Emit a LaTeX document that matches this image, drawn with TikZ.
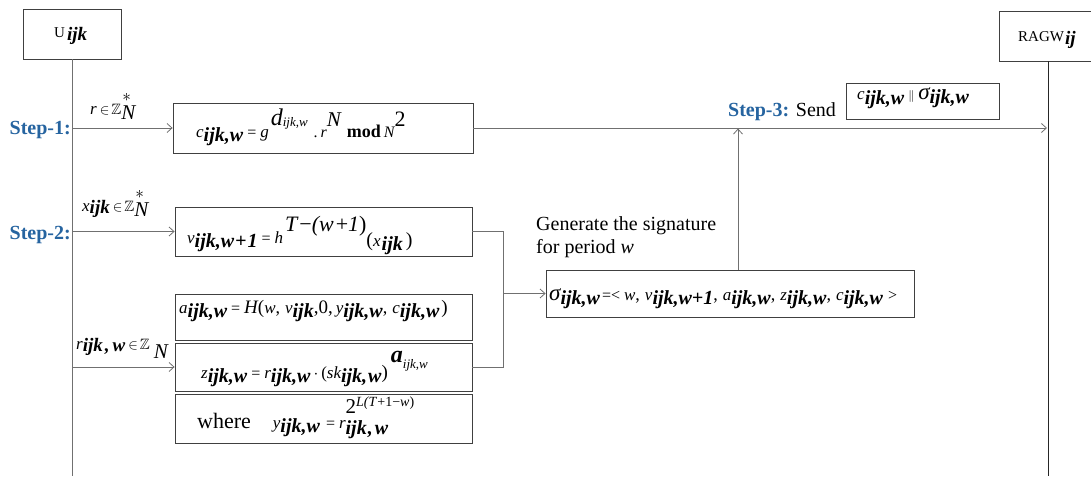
\documentclass[tikz,border=0pt]{standalone}
\usepackage{amsmath,amssymb}
\usepackage{fontspec}
\setmainfont{Liberation Serif}
\usetikzlibrary{arrows.meta}
\definecolor{linec}{RGB}{112,112,112}
\definecolor{boxc}{RGB}{64,64,64}
\definecolor{stepc}{RGB}{38,100,160}
\newcommand{\fs}[1]{\fontsize{#1}{#1}\selectfont}
\newcommand{\bi}[1]{\textbf{\textit{#1}}}
\newcommand{\Sub}[1]{\raisebox{-4pt}{\fs{20}\bi{#1}}}
\newcommand{\mv}[1]{{\fs{17}\itshape #1}}
\newcommand{\eq}{{\fs{16}\kern4pt=\kern4pt}}
\newcommand{\cm}{{\fs{18},}\kern5pt}
\begin{document}
\begin{tikzpicture}[x=1pt,y=-1pt,
  box/.style={draw=boxc, line width=0.8pt, inner sep=0pt},
  conn/.style={draw=linec, line width=0.8pt},
  arr/.style={conn, -{Straight Barb[length=5pt,width=9pt,line width=0.8pt]}},
  life/.style={line width=0.9pt},
  txt/.style={inner sep=0pt, anchor=base west},
  steplbl/.style={inner sep=0pt, anchor=base east, text=stepc, font=\fs{20}\bfseries}
]
\useasboundingbox (0,0) rectangle (1091,476);
\clip (0,0) rectangle (1091,476);

% participants
\node[box, minimum width=98, minimum height=50] (U) at (72,34) {};
\node[txt] (Ut) at (54,38) {{\fs{15}U}\kern2pt\raisebox{-3pt}{\fs{19}\bi{ijk}}};
\node[box, minimum width=101, minimum height=50] (R) at (1049.5,36) {};
\node[txt] (Rt) at (1018,42) {{\fs{15}RAGW}\kern1pt\raisebox{-3pt}{\fs{19}\bi{ij}}};
\coordinate (Uend) at (72,476);
\coordinate (Rend) at (1048,476);
\draw[conn, life] (U.south) -- (Uend);
\draw[life, draw=black!85] (R.south -| Rend) -- (Rend);

% step labels
\node[steplbl] (S1) at (71,135) {Step-1:};
\node[steplbl] (S2) at (71,239) {Step-2:};

% boxes
\node[box, minimum width=300, minimum height=50] (C) at (323,128) {};
\node[box, minimum width=297, minimum height=49] (V) at (323.5,231.5) {};
\node[box, minimum width=297, minimum height=46] (A) at (323.5,317) {};
\node[box, minimum width=297, minimum height=48] (Z) at (323.5,367) {};
\node[box, minimum width=297, minimum height=49] (W) at (323.5,418.5) {};
\node[box, minimum width=368, minimum height=47] (S) at (730,293.5) {};
\node[box, minimum width=153, minimum height=36] (K) at (922.5,101) {};

% formulas
\node[txt] (Cf) at (196,137) {\mv{c}\Sub{ijk,w}\eq\mv{g}\kern2pt\raisebox{12pt}{\fs{24}\itshape d\raisebox{-2pt}{\fs{13}\itshape ijk,w}}\kern6pt{\fs{16}.\kern3pt\itshape r}\raisebox{11pt}{\fs{21}\itshape N}\kern6pt{\fs{18}\bfseries mod}\kern3pt{\fs{16}\itshape N}\raisebox{11pt}{\fs{22}2}};
\node[txt] (Vf) at (187,243) {\mv{v}\Sub{ijk,w\kern1pt+\kern1pt1}\eq\mv{h}\kern2pt\raisebox{12pt}{\fs{22}\itshape T\kern2pt{\upshape −}(w\kern2pt{\upshape +}1{\upshape )}}\raisebox{-3pt}{{\fs{20}(}\mv{x}\kern1pt\Sub{ijk}\kern3pt{\fs{20})}}};
\node[txt] (Af) at (179,313) {\mv{a}\Sub{ijk,w}\eq{\fs{19}\itshape H}{\fs{19}(}\mv{w}\cm\mv{v}\Sub{ijk}{\fs{19},0,}\kern3pt\mv{y}\Sub{ijk,w}\cm\mv{c}\Sub{ijk,w}\kern2pt{\fs{19})}};
\node[txt] (Zf) at (201,378) {\mv{z}\Sub{ijk,w}\eq\mv{r}\Sub{ijk,w}{\fs{17}\kern3pt$\cdot$\kern3pt(}\mv{sk}\Sub{ijk,\kern1pt w}{\fs{19})}\kern3pt\raisebox{16pt}{\fs{24}\bi{a}\raisebox{-6pt}{\fs{13}\itshape ijk,w}}};
\node[txt] (Wf) at (197,428) {{\fs{22}where}\kern22pt\mv{y}\Sub{ijk,w}\kern2pt\eq\mv{r}\makebox[0pt][l]{\raisebox{15pt}{\fs{21}2\raisebox{7pt}{\fs{14}\itshape L(T\kern1pt{\upshape +1−}w{\upshape )}}}}\raisebox{-6pt}{\fs{20}\bi{ijk\kern1pt,\kern2pt w}}};
\node[txt] (Sf) at (549,300) {{\fs{23}\itshape σ}\Sub{ijk,w}{\fs{16}\kern2pt=<\kern4pt}\mv{w}\cm\mv{v}\Sub{ijk,w+1}\cm\mv{a}\Sub{ijk,w}\cm\mv{z}\Sub{ijk,w}\cm\mv{c}\Sub{ijk,w}{\fs{16}\kern5pt>}};
\node[txt] (Kf) at (857,100) {\mv{c}\raisebox{-1pt}{\Sub{ijk,w}}\kern4pt{\fs{12}$\|$}\kern4pt{\fs{23}\itshape σ}\Sub{ijk,w}};

% input labels
\node[txt] (Lr) at (90,114) {\mv{r}\kern3pt{\fs{15}$\in$\kern2pt$\mathbb{Z}$}\makebox[0pt][l]{\kern1pt\raisebox{13pt}{\fs{17}$*$}}\raisebox{-5pt}{\fs{21}\itshape N}};
\node[txt] (Lx) at (82,211) {\mv{x}\raisebox{-2pt}{\fs{19}\bi{ijk}}\kern3pt{\fs{15}$\in$\kern2pt$\mathbb{Z}$}\makebox[0pt][l]{\kern1pt\raisebox{13pt}{\fs{17}$*$}}\raisebox{-5pt}{\fs{21}\itshape N}};
\node[txt] (Lz) at (76,349) {\mv{r}\raisebox{-2pt}{\fs{19}\bi{ijk}\kern2pt\bi{,\kern3pt w}}\kern3pt{\fs{15}$\in$\kern2pt$\mathbb{Z}$}\kern4pt\raisebox{-9pt}{\fs{21}\itshape N}};

% step 3 and caption
\node[txt] (S3) at (728,117) {{\fs{20}\color{stepc}\bfseries Step-3:}{\fs{20} Send}};
\node[txt] (G1) at (536,230) {\fs{20}Generate the signature};
\node[txt] (G2) at (536,253) {\fs{20}for period \textit{w}};

% connectors
\coordinate (s1) at (72,128);
\coordinate (s2) at (72,231.5);
\coordinate (s3) at (72,367);
\draw[arr] (s1) -- (C.west);
\draw[arr] (s2) -- (V.west);
\draw[arr] (s3) -- (Z.west);
\coordinate (Rarr) at (1047,128);
\draw[arr] (C.east) -- (Rarr);
\coordinate (J) at (503,293.5);
\draw[conn] (V.east) -| (J);
\draw[conn] (Z.east) -| (J);
\draw[arr] (J) -- (S.west);
\coordinate (up) at (738,128.5);
\draw[arr] (up |- S.north) -- (up);
\end{tikzpicture}
\end{document}
